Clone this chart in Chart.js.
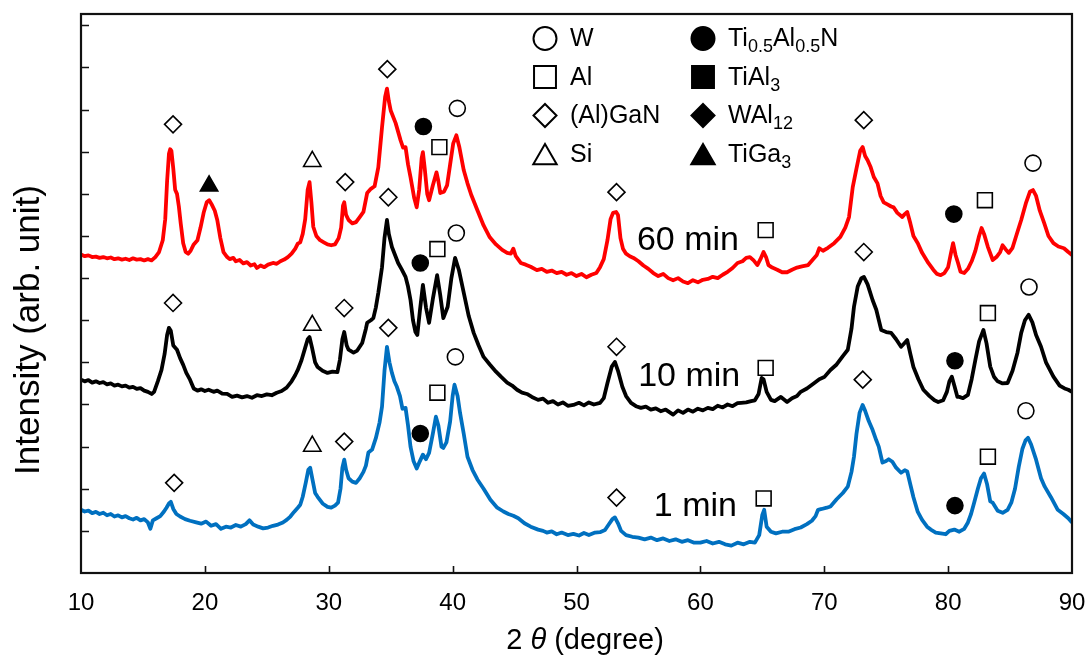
<!DOCTYPE html>
<html>
<head>
<meta charset="utf-8">
<title>XRD</title>
<script src="https://cdn.jsdelivr.net/npm/chart.js@4/dist/chart.umd.min.js"></script>
<style>
  html, body { margin: 0; background: #fff; }
  #wrap { width: 1088px; height: 667px; }
</style>
</head>
<body>
<div id="wrap"><canvas id="xrd" width="1088" height="667"></canvas></div>
<script>
/* ======================================================================
Data  (2theta in degree, intensity in arb. unit, scans stacked)
====================================================================== */
const scan60 = [
  [10.0,7.56],[10.3,7.52],[10.6,7.54],[10.9,7.50],[11.2,7.51],[11.5,7.48],[11.8,7.50],[12.1,7.47],
  [12.4,7.49],[12.7,7.45],[13.0,7.47],[13.3,7.44],[13.6,7.46],[13.9,7.43],[14.2,7.47],[14.5,7.44],
  [14.8,7.45],[15.1,7.42],[15.4,7.45],[15.7,7.42],[16.0,7.50],[16.3,7.62],[16.6,7.90],[16.8,8.40],
  [16.95,9.30],[17.1,9.95],[17.2,10.06],[17.3,10.02],[17.45,9.60],[17.6,9.10],[17.75,9.00],[17.9,8.70],
  [18.05,8.30],[18.25,7.83],[18.45,7.62],[18.65,7.58],[18.85,7.65],[19.1,7.80],[19.4,7.90],[19.65,8.20],
  [19.9,8.55],[20.15,8.80],[20.35,8.85],[20.55,8.75],[20.8,8.60],[21.0,8.38],[21.25,7.95],[21.5,7.62],
  [21.8,7.50],[22.0,7.45],[22.3,7.48],[22.5,7.40],[22.8,7.43],[23.1,7.35],[23.4,7.38],[23.7,7.30],
  [24.0,7.33],[24.2,7.24],[24.5,7.30],[24.8,7.26],[25.1,7.32],[25.5,7.36],[25.8,7.34],[26.1,7.40],
  [26.4,7.44],[26.7,7.50],[27.0,7.58],[27.3,7.70],[27.5,7.82],[27.7,7.85],[27.9,8.05],[28.1,8.40],
  [28.3,9.10],[28.45,9.28],[28.6,8.80],[28.75,8.22],[29.0,8.00],[29.3,7.90],[29.6,7.85],[29.9,7.80],
  [30.2,7.78],[30.5,7.80],[30.8,7.95],[31.0,8.20],[31.15,8.72],[31.25,8.80],[31.4,8.50],[31.6,8.38],
  [31.9,8.30],[32.2,8.33],[32.5,8.45],[32.8,8.57],[33.1,9.02],[33.4,9.12],[33.7,9.18],[34.0,9.63],
  [34.3,10.58],[34.55,11.30],[34.7,11.50],[34.85,11.20],[35.0,10.98],[35.4,10.68],[35.8,10.27],[36.0,10.10],
  [36.2,10.11],[36.4,9.70],[36.6,9.40],[36.9,8.90],[37.1,8.68],[37.3,9.10],[37.5,9.85],[37.6,9.99],
  [37.75,9.60],[37.95,9.00],[38.1,8.85],[38.4,9.20],[38.7,9.51],[38.85,9.30],[39.0,9.02],[39.3,9.05],
  [39.55,9.20],[39.8,9.70],[40.05,10.20],[40.3,10.39],[40.55,10.10],[40.9,9.56],[41.2,9.25],[41.5,8.98],
  [42.0,8.61],[42.5,8.25],[43.0,7.97],[43.5,7.80],[44.0,7.67],[44.4,7.60],[44.7,7.58],[44.9,7.70],
  [45.1,7.52],[45.5,7.36],[45.9,7.32],[46.3,7.27],[46.8,7.19],[47.2,7.22],[47.6,7.15],[48.0,7.18],
  [48.4,7.12],[48.8,7.15],[49.2,7.08],[49.6,7.12],[50.0,7.05],[50.4,7.10],[50.8,7.02],[51.2,7.08],
  [51.6,7.12],[51.9,7.26],[52.2,7.45],[52.5,7.90],[52.75,8.40],[52.95,8.55],[53.2,8.57],[53.35,8.50],
  [53.55,7.95],[53.75,7.70],[54.0,7.58],[54.3,7.52],[54.6,7.48],[55.0,7.40],[55.4,7.30],[55.8,7.22],
  [56.2,7.12],[56.6,7.05],[57.0,7.10],[57.4,7.00],[57.8,6.95],[58.2,7.00],[58.6,6.92],[59.0,6.88],
  [59.4,6.95],[59.8,6.90],[60.2,6.96],[60.6,6.98],[61.0,7.03],[61.4,7.00],[61.8,7.08],[62.2,7.15],
  [62.6,7.24],[63.0,7.36],[63.4,7.40],[63.7,7.48],[64.0,7.50],[64.3,7.42],[64.6,7.31],[64.85,7.45],
  [65.1,7.62],[65.3,7.50],[65.5,7.31],[65.8,7.25],[66.2,7.20],[66.6,7.14],[67.0,7.14],[67.4,7.20],
  [67.8,7.25],[68.2,7.28],[68.7,7.31],[69.1,7.45],[69.4,7.55],[69.6,7.71],[69.9,7.65],[70.3,7.72],
  [70.8,7.83],[71.3,7.98],[71.7,8.20],[72.0,8.45],[72.3,9.16],[72.6,9.60],[72.9,10.02],[73.1,10.11],
  [73.3,9.90],[73.5,9.80],[73.75,9.63],[74.0,9.40],[74.3,9.25],[74.55,8.95],[74.8,8.80],[75.1,8.75],
  [75.4,8.70],[75.6,8.68],[75.9,8.55],[76.3,8.45],[76.5,8.52],[76.7,8.57],[76.95,8.30],[77.2,8.00],
  [77.55,7.83],[77.9,7.60],[78.4,7.36],[78.8,7.20],[79.1,7.10],[79.4,7.07],[79.7,7.12],[80.0,7.26],
  [80.2,7.55],[80.4,7.83],[80.6,7.55],[80.8,7.36],[81.0,7.15],[81.3,7.12],[81.6,7.22],[81.9,7.40],
  [82.2,7.65],[82.5,8.00],[82.7,8.19],[82.9,8.05],[83.2,7.75],[83.6,7.43],[83.9,7.50],[84.2,7.62],
  [84.4,7.78],[84.65,7.68],[84.9,7.60],[85.2,7.72],[85.6,8.10],[85.9,8.38],[86.3,8.80],[86.6,9.05],
  [86.85,9.09],[87.1,8.95],[87.4,8.60],[87.75,8.31],[88.1,8.00],[88.5,7.83],[88.9,7.75],[89.35,7.71],
  [89.7,7.62],[90.0,7.55]
];

const scan10 = [
  [10.0,4.59],[10.3,4.55],[10.6,4.58],[10.9,4.52],[11.2,4.55],[11.5,4.51],[11.8,4.53],[12.1,4.48],
  [12.4,4.50],[12.7,4.45],[13.0,4.47],[13.3,4.43],[13.6,4.45],[13.9,4.40],[14.2,4.42],[14.5,4.37],
  [14.8,4.39],[15.1,4.33],[15.4,4.30],[15.7,4.25],[15.9,4.30],[16.2,4.55],[16.5,4.82],[16.75,5.20],
  [16.95,5.65],[17.1,5.82],[17.25,5.75],[17.45,5.40],[17.75,5.30],[18.0,5.10],[18.25,4.94],[18.5,4.75],
  [18.8,4.59],[19.1,4.38],[19.4,4.33],[19.7,4.36],[20.0,4.32],[20.3,4.35],[20.7,4.30],[21.0,4.33],
  [21.4,4.26],[21.8,4.25],[22.2,4.18],[22.6,4.21],[23.0,4.17],[23.4,4.20],[23.8,4.16],[24.2,4.22],
  [24.6,4.20],[25.0,4.24],[25.4,4.22],[25.8,4.28],[26.2,4.32],[26.6,4.40],[27.0,4.55],[27.3,4.70],
  [27.5,4.82],[27.8,5.05],[28.1,5.35],[28.3,5.55],[28.45,5.60],[28.65,5.35],[28.9,5.00],[29.1,4.89],
  [29.5,4.80],[29.9,4.75],[30.3,4.78],[30.7,4.77],[30.9,5.06],[31.1,5.55],[31.25,5.72],[31.45,5.40],
  [31.6,5.30],[32.0,5.23],[32.3,5.28],[32.7,5.46],[33.0,5.80],[33.1,5.94],[33.4,6.00],[33.6,6.05],
  [33.8,6.30],[34.0,6.65],[34.3,7.26],[34.5,7.95],[34.7,8.38],[34.85,8.05],[35.1,7.74],[35.35,7.55],
  [35.6,7.36],[35.9,7.20],[36.2,7.03],[36.4,6.80],[36.6,6.48],[36.8,6.00],[37.0,5.72],[37.15,5.65],
  [37.35,6.20],[37.6,6.84],[37.85,6.30],[38.1,5.94],[38.4,6.50],[38.75,7.07],[39.0,6.60],[39.25,6.05],
  [39.6,6.32],[39.9,7.00],[40.2,7.48],[40.5,7.20],[40.9,6.65],[41.3,6.10],[41.7,5.70],[42.1,5.40],
  [42.5,5.13],[43.0,4.95],[43.5,4.78],[43.9,4.66],[44.4,4.52],[44.8,4.45],[45.2,4.35],[45.6,4.28],
  [46.0,4.25],[46.4,4.18],[46.9,4.11],[47.3,4.14],[47.7,4.04],[48.1,4.08],[48.5,4.00],[48.9,4.05],
  [49.3,3.97],[49.75,3.99],[50.2,4.04],[50.6,3.98],[51.0,4.05],[51.4,4.00],[51.9,4.04],[52.2,4.15],
  [52.5,4.51],[52.85,4.90],[53.1,5.01],[53.35,4.80],[53.7,4.42],[54.0,4.20],[54.4,4.04],[54.8,3.96],
  [55.2,3.92],[55.6,3.95],[56.0,3.88],[56.4,3.91],[56.8,3.84],[57.2,3.88],[57.8,3.76],[58.2,3.86],
  [58.6,3.80],[59.0,3.88],[59.4,3.83],[59.8,3.90],[60.2,3.86],[60.6,3.92],[61.0,3.89],[61.4,3.97],
  [61.8,3.93],[62.2,4.00],[62.6,3.96],[63.0,4.03],[63.3,4.04],[63.7,4.05],[64.1,4.08],[64.4,4.10],
  [64.7,4.25],[64.95,4.63],[65.1,4.60],[65.35,4.30],[65.7,4.11],[66.0,4.08],[66.5,4.18],[67.0,4.06],
  [67.4,4.15],[67.8,4.20],[68.1,4.30],[68.6,4.38],[69.2,4.51],[69.6,4.60],[70.0,4.65],[70.5,4.82],
  [71.0,4.95],[71.5,5.15],[71.9,5.30],[72.2,5.80],[72.4,6.32],[72.7,6.80],[73.0,7.00],[73.2,7.03],
  [73.5,6.85],[73.9,6.48],[74.2,6.25],[74.6,5.77],[75.0,5.72],[75.4,5.70],[75.8,5.55],[76.2,5.37],
  [76.45,5.45],[76.7,5.53],[76.95,5.20],[77.2,4.89],[77.6,4.60],[78.0,4.35],[78.5,4.20],[78.9,4.10],
  [79.2,4.06],[79.6,4.10],[79.9,4.30],[80.1,4.55],[80.3,4.66],[80.5,4.45],[80.75,4.18],[80.9,4.18],
  [81.2,4.15],[81.6,4.23],[81.9,4.60],[82.2,5.06],[82.5,5.50],[82.85,5.77],[83.1,5.45],[83.4,4.90],
  [83.7,4.66],[84.0,4.55],[84.4,4.50],[84.8,4.51],[85.2,4.80],[85.6,5.23],[85.9,5.70],[86.2,6.00],
  [86.5,6.13],[86.8,5.95],[87.1,5.65],[87.5,5.37],[87.9,5.00],[88.5,4.66],[89.0,4.45],[89.4,4.38],
  [89.7,4.35],[90.0,4.30]
];

const scan1 = [
  [10.0,1.50],[10.3,1.46],[10.6,1.48],[10.9,1.42],[11.2,1.45],[11.5,1.40],[11.8,1.43],[12.1,1.37],
  [12.4,1.40],[12.7,1.34],[13.0,1.37],[13.3,1.32],[13.6,1.35],[13.9,1.30],[14.2,1.27],[14.5,1.31],
  [14.8,1.25],[15.1,1.28],[15.4,1.20],[15.6,1.05],[15.8,1.25],[16.1,1.30],[16.4,1.35],[16.7,1.46],
  [16.9,1.55],[17.1,1.65],[17.25,1.69],[17.45,1.52],[17.7,1.40],[18.0,1.34],[18.4,1.28],[18.8,1.24],
  [19.3,1.20],[19.7,1.17],[20.1,1.22],[20.5,1.12],[20.9,1.16],[21.3,1.05],[21.7,1.10],[22.1,1.08],
  [22.5,1.14],[22.9,1.10],[23.3,1.16],[23.6,1.25],[23.9,1.15],[24.3,1.10],[24.7,1.06],[25.1,1.08],
  [25.5,1.12],[25.9,1.15],[26.3,1.20],[26.6,1.26],[26.9,1.34],[27.2,1.45],[27.5,1.55],[27.7,1.62],
  [27.9,1.81],[28.15,2.15],[28.35,2.45],[28.5,2.50],[28.7,2.20],[28.9,1.90],[29.1,1.81],[29.5,1.65],
  [29.9,1.57],[30.2,1.55],[30.5,1.60],[30.75,1.67],[30.95,2.00],[31.1,2.50],[31.25,2.69],[31.4,2.45],
  [31.6,2.25],[31.9,2.17],[32.2,2.14],[32.5,2.25],[32.8,2.40],[33.0,2.55],[33.2,2.86],[33.5,2.93],
  [33.8,3.20],[34.1,3.57],[34.3,3.95],[34.5,4.80],[34.7,5.37],[34.9,5.00],[35.1,4.75],[35.3,4.55],
  [35.5,4.42],[35.75,4.20],[35.95,3.90],[36.2,3.92],[36.4,3.50],[36.6,3.00],[36.85,2.65],[37.1,2.48],
  [37.35,2.65],[37.6,2.81],[37.85,2.70],[38.1,2.85],[38.4,3.30],[38.65,3.71],[38.85,3.50],[39.1,3.00],
  [39.25,2.97],[39.5,3.10],[39.8,3.60],[40.0,4.20],[40.15,4.47],[40.4,4.20],[40.6,3.80],[40.9,3.30],
  [41.2,2.76],[41.6,2.45],[42.0,2.22],[42.5,2.00],[43.05,1.74],[43.6,1.55],[44.1,1.46],[44.5,1.40],
  [44.9,1.36],[45.3,1.30],[45.8,1.18],[46.3,1.10],[46.9,1.03],[47.3,1.00],[47.6,0.96],[48.0,0.99],
  [48.4,0.92],[48.8,0.96],[49.3,0.90],[49.75,0.93],[50.2,0.89],[50.6,0.95],[51.0,0.90],[51.5,0.96],
  [51.9,0.97],[52.3,1.02],[52.6,1.15],[52.9,1.28],[53.1,1.32],[53.35,1.18],[53.6,1.00],[54.0,0.90],
  [54.5,0.86],[55.0,0.84],[55.5,0.80],[56.0,0.84],[56.5,0.78],[57.0,0.82],[57.5,0.76],[58.0,0.80],
  [58.5,0.74],[59.0,0.78],[59.5,0.72],[60.0,0.72],[60.5,0.76],[61.0,0.70],[61.5,0.74],[62.0,0.68],
  [62.5,0.65],[63.0,0.72],[63.5,0.68],[64.0,0.74],[64.4,0.72],[64.75,0.90],[65.0,1.38],[65.15,1.50],
  [65.35,1.10],[65.7,0.98],[66.1,0.94],[66.6,0.98],[67.1,0.98],[67.6,1.04],[68.1,1.08],[68.6,1.16],
  [69.0,1.24],[69.3,1.35],[69.5,1.50],[69.8,1.52],[70.2,1.55],[70.5,1.58],[71.0,1.75],[71.5,1.90],
  [71.9,2.05],[72.2,2.40],[72.4,2.76],[72.6,3.30],[72.85,3.80],[73.1,3.99],[73.3,3.85],[73.6,3.60],
  [73.9,3.40],[74.2,3.15],[74.4,3.00],[74.7,2.62],[75.0,2.66],[75.2,2.70],[75.5,2.64],[75.8,2.50],
  [76.2,2.38],[76.5,2.44],[76.7,2.41],[76.95,2.10],[77.2,1.80],[77.55,1.45],[77.9,1.26],[78.3,1.10],
  [78.6,1.03],[79.0,0.96],[79.4,0.94],[79.8,0.92],[80.1,1.00],[80.5,1.03],[80.9,0.98],[81.3,1.05],
  [81.6,1.20],[81.85,1.40],[82.1,1.67],[82.4,2.00],[82.65,2.25],[82.9,2.36],[83.15,2.10],[83.4,1.70],
  [83.6,1.67],[84.0,1.48],[84.4,1.43],[84.8,1.50],[85.1,1.67],[85.4,2.00],[85.7,2.52],[86.0,2.95],
  [86.25,3.15],[86.45,3.21],[86.7,3.05],[87.1,2.69],[87.5,2.25],[87.8,2.05],[88.3,1.80],[88.85,1.50],
  [89.3,1.40],[89.7,1.30],[90.0,1.20]
];

// peak assignments: [2theta, height of the symbol]
const peaksW       = [[40.38,11.03],[86.85,9.73],[40.30,8.07],[86.53,6.79],[40.22,5.13],[86.28,3.85]];
const peaksAl      = [[38.93,10.11],[65.27,8.14],[82.97,8.85],[38.77,7.69],[65.27,4.87],[83.21,6.17],
                      [38.77,4.28],[65.11,1.77],[83.21,2.76]];
const peaksGaN     = [[17.43,10.65],[31.33,9.28],[34.73,11.96],[53.23,9.04],[73.19,10.75],
                      [17.43,6.41],[31.25,6.29],[34.81,8.92],[53.23,5.37],[73.19,7.62],
                      [17.52,2.14],[31.25,3.12],[34.81,5.82],[53.23,1.79],[73.11,4.59]];
const peaksSi      = [[28.67,9.77],[28.67,5.88],[28.67,3.01]];
const peaksTiAlN   = [[37.64,10.60],[80.46,8.52],[37.39,7.36],[80.55,5.04],[37.39,3.31],[80.55,1.60]];
const peaksTiAl3   = [];
const peaksWAl12   = [];
const peaksTiGa3   = [[20.34,9.19]];

const scanNames  = ['60 min', '10 min', '1 min'];
const scanColors = ['#ff0000', '#000000', '#0070c0'];
const scanLabelAt = [[59.0,7.90],[59.1,4.66],[59.6,1.58]];

const xTicks = { min: 10, max: 90, step: 10 };
const yRange = { min: 0, max: 13.27, step: 1 };

const phases = [
  { name: 'W',                 style: 'circle',   filled: false, peaks: peaksW },
  { name: 'Al',                style: 'rect',     filled: false, peaks: peaksAl },
  { name: '(Al)GaN',           style: 'rectRot',  filled: false, peaks: peaksGaN },
  { name: 'Si',                style: 'triangle', filled: false, peaks: peaksSi },
  { name: 'Ti_{0.5}Al_{0.5}N', style: 'circle',   filled: true,  peaks: peaksTiAlN },
  { name: 'TiAl_{3}',          style: 'rect',     filled: true,  peaks: peaksTiAl3 },
  { name: 'WAl_{12}',          style: 'rectRot',  filled: true,  peaks: peaksWAl12 },
  { name: 'TiGa_{3}',          style: 'triangle', filled: true,  peaks: peaksTiGa3 }
];

/* ======================================================================
Styles
====================================================================== */
const FONT = "'Liberation Sans', Arial, sans-serif";
const markRadius   = { circle: 8, rect: 10.5, rectRot: 8.5, triangle: 10 };
const legendRadius = { circle: 11.5, rect: 15.5, rectRot: 11.5, triangle: 13.5 };
const toXY = arr => arr.map(([x, y]) => ({ x, y }));

/* ======================================================================
Plugins
====================================================================== */
// box round the plot with inward tick marks
const frameTicks = {
  id: 'frameTicks',
  afterDatasetsDraw(chart) {
    const { ctx, chartArea: a, scales: { x, y } } = chart;
    ctx.save();
    ctx.strokeStyle = '#111';
    ctx.lineWidth = 1.6;
    ctx.beginPath();
    x.ticks.forEach(t => {
      if (t.value <= x.min || t.value >= x.max) return;
      const px = Math.round(x.getPixelForValue(t.value)) + 0.5;
      ctx.moveTo(px, a.bottom);
      ctx.lineTo(px, a.bottom - 7);
    });
    y.ticks.forEach(t => {
      if (t.value <= y.min || t.value >= y.max) return;
      const py = Math.round(y.getPixelForValue(t.value)) + 0.5;
      ctx.moveTo(a.left, py);
      ctx.lineTo(a.left + 8, py);
    });
    ctx.stroke();
    ctx.lineWidth = 2.2;
    ctx.strokeRect(a.left, a.top, a.right - a.left, a.bottom - a.top);
    ctx.restore();
  }
};

// text with _{...} subscripts
function drawRich(ctx, str, x, y, size) {
  const parts = str.split(/(_\{[^}]*\})/).filter(Boolean);
  let cx = x;
  parts.forEach(p => {
    const sub = p.startsWith('_{');
    const txt = sub ? p.slice(2, -1) : p;
    ctx.font = (sub ? Math.round(size * 0.7) : size) + 'px ' + FONT;
    ctx.fillText(txt, cx, sub ? y + size * 0.32 : y);
    cx += ctx.measureText(txt).width;
  });
}

const phaseLegend = {
  id: 'phaseLegend',
  afterDraw(chart) {
    const { ctx, chartArea: a } = chart;
    ctx.save();
    ctx.textBaseline = 'middle';
    ctx.textAlign = 'left';
    phases.forEach((ph, i) => {
      const col = Math.floor(i / 4), row = i % 4;
      const mx = a.left + 464 + col * 158;
      const my = a.top + 24.5 + row * 38.5;
      const r = legendRadius[ph.style];
      ctx.fillStyle = ph.filled ? '#000' : '#fff';
      ctx.strokeStyle = '#000';
      ctx.lineWidth = 2;
      Chart.helpers.drawPoint(ctx, { pointStyle: ph.style, radius: r, rotation: 0, borderWidth: 2 },
        mx, ph.style === 'triangle' ? my + 3.4 : my);
      ctx.fillStyle = '#000';
      drawRich(ctx, ph.name, mx + 25, my + 1, 25);
    });
    ctx.restore();
  }
};

const scanLabels = {
  id: 'scanLabels',
  afterDraw(chart) {
    const { ctx, scales: { x, y } } = chart;
    ctx.save();
    ctx.fillStyle = '#000';
    ctx.textAlign = 'center';
    ctx.textBaseline = 'middle';
    ctx.font = '34px ' + FONT;
    scanNames.forEach((n, i) => {
      const [t, v] = scanLabelAt[i];
      ctx.fillText(n, x.getPixelForValue(t), y.getPixelForValue(v));
    });
    ctx.restore();
  }
};

const axisTitles = {
  id: 'axisTitles',
  afterDraw(chart) {
    const { ctx } = chart;
    ctx.save();
    ctx.fillStyle = '#000';
    ctx.textBaseline = 'middle';
    // y title
    ctx.translate(29, 330);
    ctx.rotate(-Math.PI / 2);
    ctx.textAlign = 'center';
    ctx.font = '35px ' + FONT;
    ctx.fillText('Intensity (arb. unit)', 0, 0);
    ctx.setTransform(1, 0, 0, 1, 0, 0);
    // x title: 2θ (degree), theta in italic
    const y0 = 641;
    ctx.textAlign = 'left';
    const pieces = [['2', 'normal'], [' ', 'normal'], ['θ', 'italic'], [' (degree)', 'normal']];
    let w = 0;
    pieces.forEach(([s, st]) => { ctx.font = st + ' 29px ' + FONT; w += ctx.measureText(s).width; });
    let cx = 585 - w / 2;
    pieces.forEach(([s, st]) => {
      ctx.font = st + ' 29px ' + FONT;
      ctx.fillText(s, cx, y0);
      cx += ctx.measureText(s).width;
    });
    ctx.restore();
  }
};

/* ======================================================================
Chart
====================================================================== */
const scanSets = [scan60, scan10, scan1].map((s, i) => ({
  label: scanNames[i],
  data: toXY(s),
  showLine: true,
  borderColor: scanColors[i],
  backgroundColor: scanColors[i],
  borderWidth: 3.8,
  borderJoinStyle: 'round',
  pointRadius: 0,
  tension: 0
}));

const markSets = phases.filter(p => p.peaks.length).map(p => ({
  label: p.name,
  data: toXY(p.peaks),
  showLine: false,
  pointStyle: p.style,
  pointRadius: markRadius[p.style],
  backgroundColor: p.filled ? '#000' : '#fff',
  borderColor: '#000',
  borderWidth: 1.6
}));

new Chart(document.getElementById('xrd'), {
  type: 'scatter',
  data: { datasets: [...markSets, ...scanSets] },
  options: {
    responsive: false,
    animation: false,
    events: [],
    layout: { padding: { top: 14, right: 16, left: 0, bottom: 0 } },
    plugins: { legend: { display: false }, tooltip: { enabled: false } },
    scales: {
      x: {
        type: 'linear',
        min: xTicks.min,
        max: xTicks.max,
        grid: { display: false, drawTicks: false },
        border: { display: false },
        ticks: { stepSize: xTicks.step, color: '#000', padding: 16, font: { size: 24, family: FONT } },
        afterFit: s => { s.height = 94; s.paddingLeft = 0; s.paddingRight = 0; }
      },
      y: {
        type: 'linear',
        min: yRange.min,
        max: yRange.max,
        grid: { display: false, drawTicks: false },
        border: { display: false },
        ticks: { display: false, stepSize: yRange.step, includeBounds: false },
        afterFit: s => { s.width = 81; }
      }
    }
  },
  plugins: [frameTicks, phaseLegend, scanLabels, axisTitles]
});
</script>
</body>
</html>
